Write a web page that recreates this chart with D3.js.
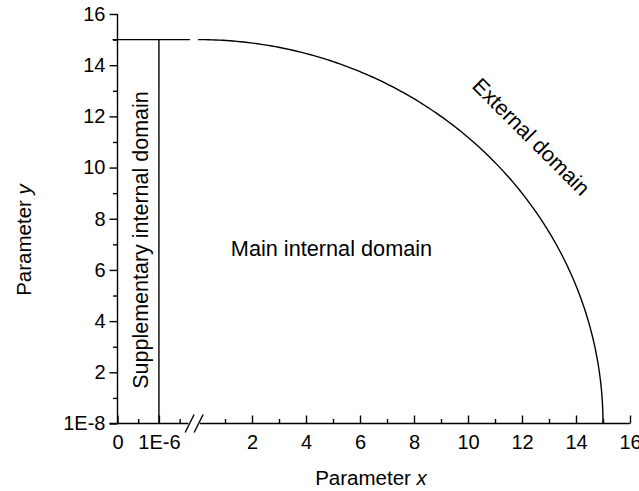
<!DOCTYPE html>
<html>
<head>
<meta charset="utf-8">
<script src="https://cdn.jsdelivr.net/npm/d3@7"></script>
<style>
  html, body { margin: 0; padding: 0; background: #fff; }
  svg text { font-family: "Liberation Sans", Arial, Helvetica, sans-serif; fill: #000; }
</style>
</head>
<body>
<svg id="chart" width="639" height="491"></svg>
<script>
// Broken x axis: a tiny segment near zero, then the main 0..16 range
const leftMajorTicks = [0, 1e-6];
const leftMinorTicks = [0.5e-6, 1.5e-6];
const leftTickLabels = ["0", "1E-6"];
const rightMajorTicks = [2, 4, 6, 8, 10, 12, 14, 16];
const rightMinorTicks = [1, 3, 5, 7, 9, 11, 13, 15];
const yMajorTicks = [0, 2, 4, 6, 8, 10, 12, 14, 16];
const yMinorTicks = [1, 3, 5, 7, 9, 11, 13, 15];
const yTickLabels = ["1E-8", "2", "4", "6", "8", "10", "12", "14", "16"];

// Domain boundaries
const outerRadius = 15;           // external boundary: quarter circle of radius 15
const topLevel = 15;              // y of the upper boundary line
const supplementaryX = 1e-6;      // vertical boundary in the small segment
const arcAngles = d3.range(0, 90.5, 0.5); // degrees along the quarter circle

const svg = d3.select("#chart");

const y = d3.scaleLinear().domain([0, 16]).range([423.5, 14]);
const xLeft = d3.scaleLinear().domain([0, 1.75e-6]).range([117.5, 190]);
const xRight = d3.scaleLinear().domain([0, 16]).range([198, 630]);

const stroke = "#000";
const lw = 1.4;
const tickFont = 20;

// ---- axes lines ----
const axisY = y(0);
svg.append("line")
  .attr("x1", xLeft(0) - 8).attr("x2", xLeft(1.71e-6))
  .attr("y1", axisY).attr("y2", axisY)
  .attr("stroke", stroke).attr("stroke-width", lw);
svg.append("line")
  .attr("x1", xRight(0.07)).attr("x2", xRight(16))
  .attr("y1", axisY).attr("y2", axisY)
  .attr("stroke", stroke).attr("stroke-width", lw);
svg.append("line")
  .attr("x1", xLeft(0)).attr("x2", xLeft(0))
  .attr("y1", y(0)).attr("y2", y(16))
  .attr("stroke", stroke).attr("stroke-width", lw);

// break marks on the x axis
const bx = (xLeft(1.71e-6) + xRight(0.07)) / 2;
[-4.5, 4.5].forEach(off => {
  svg.append("line")
    .attr("x1", bx + off - 4.5).attr("y1", axisY + 9)
    .attr("x2", bx + off + 4.5).attr("y2", axisY - 9)
    .attr("stroke", stroke).attr("stroke-width", lw);
});

// ---- x ticks (pointing inward) ----
function xAxis(scale, values, size, labels) {
  const ax = d3.axisBottom(scale).tickValues(values).tickSize(-size).tickPadding(11);
  ax.tickFormat(labels ? (d, i) => labels[i] : "");
  const g = svg.append("g").attr("transform", `translate(0,${axisY})`).call(ax);
  g.select(".domain").remove();
  g.selectAll(".tick line").attr("stroke", stroke).attr("stroke-width", lw);
  g.selectAll(".tick text").attr("font-size", tickFont).attr("font-family", null);
  return g;
}
xAxis(xLeft, leftMajorTicks, 8, leftTickLabels);
xAxis(xLeft, leftMinorTicks, 4.5, null);
xAxis(xRight, rightMajorTicks, 8, rightMajorTicks.map(String));
xAxis(xRight, rightMinorTicks, 4.5, null);

// ---- y ticks (pointing outward) ----
function yAxis(values, size, labels) {
  const ax = d3.axisLeft(y).tickValues(values).tickSize(size).tickPadding(4);
  ax.tickFormat(labels ? (d, i) => labels[i] : "");
  const g = svg.append("g").attr("transform", `translate(${xLeft(0)},0)`).call(ax);
  g.select(".domain").remove();
  g.selectAll(".tick line").attr("stroke", stroke).attr("stroke-width", lw);
  g.selectAll(".tick text").attr("font-size", tickFont).attr("font-family", null);
  return g;
}
yAxis(yMajorTicks, 8, yTickLabels);
yAxis(yMinorTicks, 4.5, null);

// ---- domain boundaries ----
// upper boundary across the small segment
svg.append("line")
  .attr("x1", xLeft(0) - 5).attr("x2", xLeft(1.75e-6))
  .attr("y1", y(topLevel)).attr("y2", y(topLevel))
  .attr("stroke", stroke).attr("stroke-width", lw);
// vertical boundary at x = 1E-6
svg.append("line")
  .attr("x1", xLeft(supplementaryX)).attr("x2", xLeft(supplementaryX))
  .attr("y1", y(0)).attr("y2", y(topLevel))
  .attr("stroke", stroke).attr("stroke-width", lw);
// quarter circle
const arcLine = d3.line()
  .x(a => xRight(outerRadius * Math.cos(a * Math.PI / 180)))
  .y(a => y(outerRadius * Math.sin(a * Math.PI / 180)));
svg.append("path")
  .datum(arcAngles)
  .attr("d", arcLine)
  .attr("fill", "none")
  .attr("stroke", stroke).attr("stroke-width", lw);

// ---- axis titles ----
const xTitle = svg.append("text")
  .attr("x", 371).attr("y", 485)
  .attr("text-anchor", "middle").attr("font-size", 20.5);
xTitle.append("tspan").text("Parameter ");
xTitle.append("tspan").attr("font-style", "italic").text("x");

const yTitle = svg.append("text")
  .attr("transform", "translate(31,240) rotate(-90)")
  .attr("text-anchor", "middle").attr("font-size", 20.5);
yTitle.append("tspan").text("Parameter ");
yTitle.append("tspan").attr("font-style", "italic").text("y");

// ---- region labels ----
svg.append("text")
  .attr("x", 331.5).attr("y", 256)
  .attr("text-anchor", "middle").attr("font-size", 21.7)
  .text("Main internal domain");

svg.append("text")
  .attr("transform", "translate(148,240) rotate(-90)")
  .attr("text-anchor", "middle").attr("font-size", 21.5)
  .text("Supplementary internal domain");

svg.append("text")
  .attr("transform", "translate(526,142) rotate(45)")
  .attr("text-anchor", "middle").attr("font-size", 21.5)
  .text("External domain");
</script>
</body>
</html>
